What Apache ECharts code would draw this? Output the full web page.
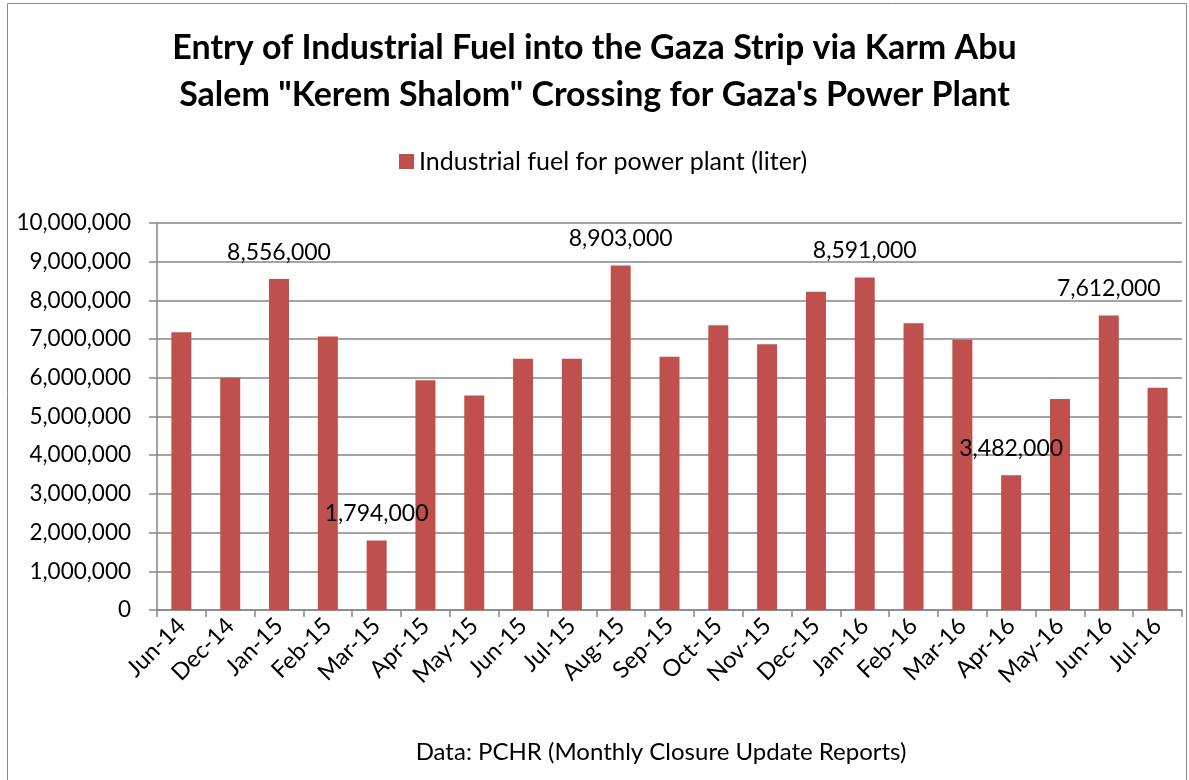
<!DOCTYPE html>
<html>
<head>
<meta charset="utf-8">
<script src="https://cdn.jsdelivr.net/npm/echarts@6/dist/echarts.min.js"></script>
<style>
  html, body { margin: 0; padding: 0; background: #fff; }
  #main { width: 1189px; height: 780px; }
</style>
</head>
<body>
<div id="main"></div>
<script>
var months = ['Jun-14', 'Dec-14', 'Jan-15', 'Feb-15', 'Mar-15', 'Apr-15', 'May-15', 'Jun-15', 'Jul-15',
  'Aug-15', 'Sep-15', 'Oct-15', 'Nov-15', 'Dec-15', 'Jan-16', 'Feb-16', 'Mar-16', 'Apr-16', 'May-16',
  'Jun-16', 'Jul-16'];
var fuel = [7180000, 6000000, 8556000, 7070000, 1794000, 5935000, 5540000, 6495000, 6495000,
  8903000, 6546000, 7356000, 6865000, 8226000, 8591000, 7407000, 6985000, 3482000, 5452000,
  7612000, 5745000];
var labeledMonths = ['Jan-15', 'Mar-15', 'Aug-15', 'Jan-16', 'Apr-16', 'Jun-16'];

var font = 'Lato, "Open Sans", sans-serif';
var fmt = function (v) { return Number(v).toLocaleString('en-US'); };

var chartDom = document.getElementById('main');
var myChart = echarts.init(chartDom);
var option;

var barData = fuel.map(function (v, i) {
  return {
    value: v,
    label: { show: labeledMonths.indexOf(months[i]) >= 0 }
  };
});

option = {
  backgroundColor: '#fff',
  animation: false,
  textStyle: { fontFamily: font },
  title: [
    {
      text: 'Entry of Industrial Fuel into the Gaza Strip via Karm Abu\nSalem "Kerem Shalom" Crossing for Gaza\'s Power Plant',
      left: 'center',
      top: 20,
      textStyle: { fontFamily: font, fontSize: 34, fontWeight: 'bold', color: '#000', lineHeight: 47 }
    },
    {
      text: 'Data: PCHR (Monthly Closure Update Reports)',
      left: 656,
      textAlign: 'center',
      top: 735,
      textStyle: { fontFamily: font, fontSize: 24, fontWeight: 'normal', color: '#000' }
    }
  ],
  legend: {
    data: ['Industrial fuel for power plant (liter)'],
    top: 144,
    left: 394,
    icon: 'rect',
    itemWidth: 15,
    itemHeight: 15,
    itemGap: 6,
    textStyle: { fontFamily: font, fontSize: 25, color: '#000' }
  },
  graphic: [
    {
      type: 'rect',
      shape: { x: 7.5, y: 3.5, width: 1179, height: 800 },
      style: { fill: 'none', stroke: '#888', lineWidth: 1 },
      silent: true
    }
  ],
  grid: { left: 157, right: 7, top: 223, bottom: 170 },
  xAxis: {
    type: 'category',
    data: months,
    axisLine: { lineStyle: { color: '#868686', width: 1.5 } },
    axisTick: { show: true, length: 7, alignWithLabel: false, lineStyle: { color: '#868686', width: 1.5 } },
    axisLabel: { rotate: 45, margin: 12, fontFamily: font, fontSize: 23.5, color: '#000' }
  },
  yAxis: {
    type: 'value',
    min: 0,
    max: 10000000,
    interval: 1000000,
    axisLine: { show: true, lineStyle: { color: '#868686', width: 1.5 } },
    axisTick: { show: true, length: 8, lineStyle: { color: '#868686', width: 1.5 } },
    axisLabel: { margin: 26, fontFamily: font, fontSize: 22.5, color: '#000', formatter: fmt },
    splitLine: { show: true, lineStyle: { color: '#868686', width: 1.5 } }
  },
  series: [
    {
      name: 'Industrial fuel for power plant (liter)',
      type: 'bar',
      barWidth: 20,
      itemStyle: { color: '#C0504D' },
      label: {
        position: 'top',
        distance: 15,
        fontFamily: font,
        fontSize: 23,
        color: '#000',
        formatter: function (p) { return fmt(p.value); }
      },
      data: barData
    }
  ]
};
option && myChart.setOption(option);
</script>
</body>
</html>
